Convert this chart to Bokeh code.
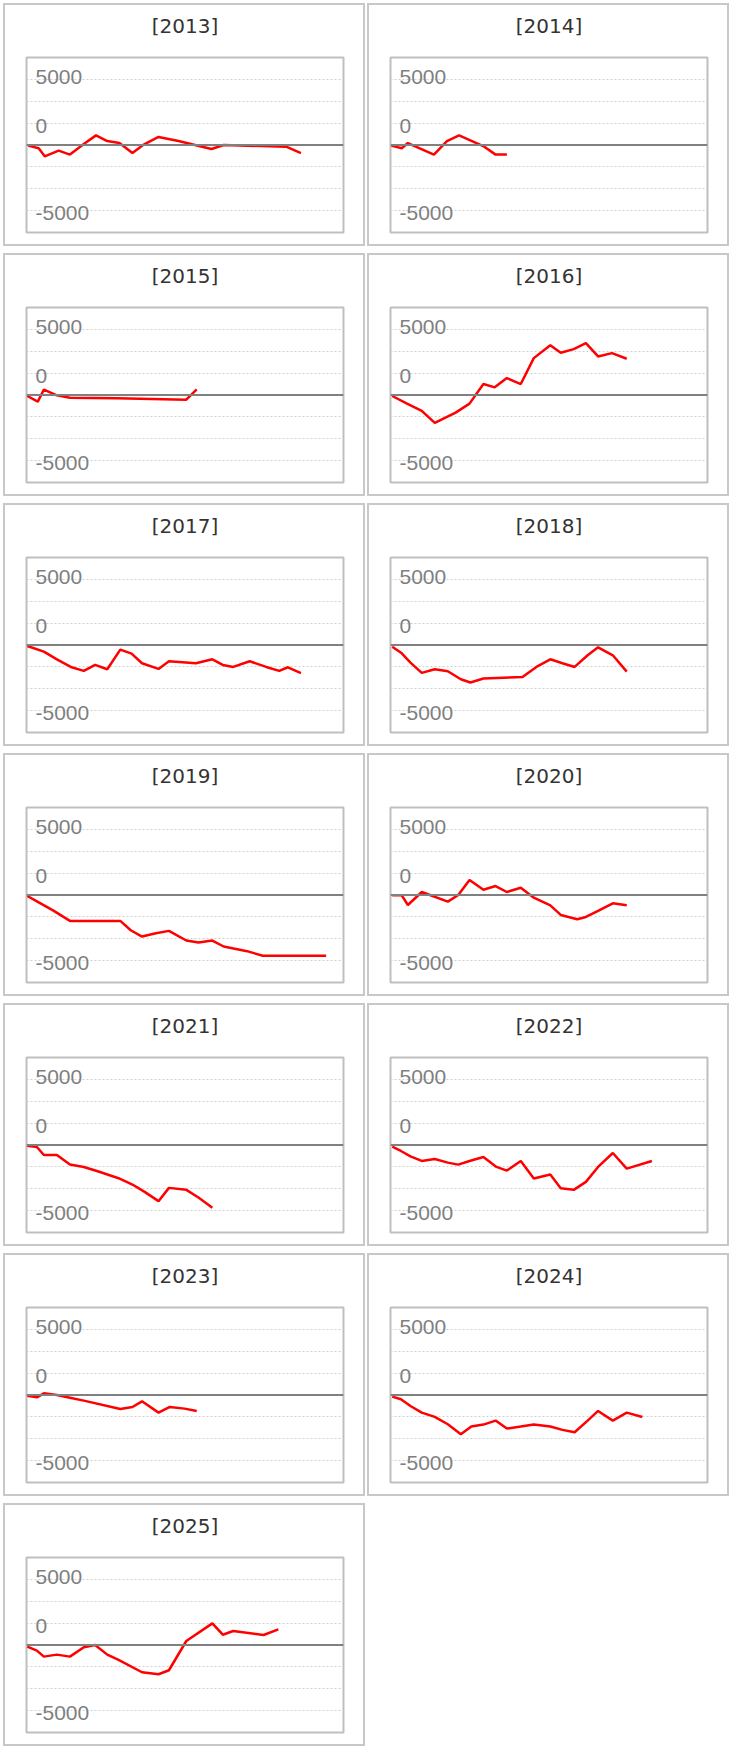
from bokeh.plotting import figure
from bokeh.layouts import column, row
from bokeh.models import Range1d, Span, FixedTicker, ColumnDataSource, Title
from bokeh.core.properties import value
from bokeh.embed import file_html
from bokeh.resources import INLINE

# ---- data (x = approx. day of year, y = cumulative value) ----
years = ["2013", "2014", "2015", "2016", "2017", "2018", "2019",
         "2020", "2021", "2022", "2023", "2024", "2025"]

days_2013 = [2, 14, 21, 37, 50, 66, 80, 93, 107, 122, 135, 152, 175, 213, 227, 299, 316]
vals_2013 = [-50, -250, -860, -430, -730, 80, 730, 300, 150, -610, 30, 610, 300, -300, 0, -130, -610]

days_2014 = [1, 13, 20, 50, 65, 79, 108, 121, 134]
vals_2014 = [-50, -250, 150, -730, 300, 730, -130, -730, -730]

days_2015 = [1, 13, 20, 35, 50, 104, 184, 196]
vals_2015 = [-76, -505, 404, -25, -202, -253, -354, 429]

days_2016 = [2, 19, 36, 51, 75, 91, 107, 120, 134, 150, 165, 184, 196, 211, 225, 239, 255, 272]
vals_2016 = [-76, -657, -1212, -2121, -1338, -657, 833, 581, 1288, 833, 2803, 3788, 3207, 3485,
             3939, 2929, 3182, 2753]

days_2017 = [1, 20, 36, 51, 66, 79, 93, 108, 121, 133, 152, 164, 195, 214, 226, 238, 257, 276,
             291, 301, 316]
vals_2017 = [-76, -505, -1136, -1667, -1970, -1515, -1843, -354, -657, -1389, -1818, -1237,
             -1389, -1086, -1515, -1667, -1237, -1667, -1970, -1692, -2146]

days_2018 = [2, 13, 23, 36, 51, 66, 81, 92, 107, 152, 168, 184, 198, 212, 227, 239, 256, 272]
vals_2018 = [-126, -631, -1338, -2121, -1843, -1995, -2601, -2854, -2551, -2424, -1667, -1086,
             -1389, -1667, -783, -177, -783, -2020]

days_2019 = [1, 12, 31, 50, 108, 120, 133, 149, 164, 184, 198, 214, 227, 254, 272, 345]
vals_2019 = [-76, -480, -1187, -1970, -1970, -2677, -3157, -2904, -2727, -3460, -3611, -3460,
             -3914, -4268, -4621, -4621]

days_2020 = [2, 13, 20, 36, 66, 78, 91, 107, 121, 134, 150, 165, 184, 196, 215, 225, 239, 256, 272]
vals_2020 = [-25, -25, -758, 227, -505, 0, 1136, 404, 682, 227, 556, -202, -783, -1515, -1843,
             -1667, -1212, -631, -783]

days_2021 = [1, 12, 20, 35, 50, 66, 82, 106, 122, 136, 152, 164, 184, 198, 214]
vals_2021 = [-50, -152, -758, -758, -1490, -1667, -1995, -2525, -3005, -3561, -4268, -3258,
             -3409, -3990, -4773]

days_2022 = [2, 12, 23, 36, 51, 66, 78, 91, 107, 122, 134, 150, 165, 184, 196, 211, 225, 239,
             256, 272, 301]
vals_2022 = [-126, -455, -859, -1212, -1061, -1338, -1490, -1212, -909, -1667, -1944, -1212,
             -2551, -2247, -3283, -3409, -2803, -1667, -606, -1793, -1212]

days_2023 = [1, 12, 20, 35, 50, 66, 108, 122, 133, 152, 165, 182, 196]
vals_2023 = [-50, -177, 126, 0, -202, -429, -1061, -909, -480, -1338, -909, -1035, -1212]

days_2024 = [2, 12, 23, 36, 51, 66, 81, 93, 107, 121, 134, 150, 165, 184, 198, 212, 227, 239,
             256, 272, 290]
vals_2024 = [-126, -328, -833, -1338, -1667, -2222, -2980, -2399, -2247, -1944, -2551, -2399,
             -2247, -2399, -2652, -2828, -1944, -1212, -1944, -1338, -1667]

days_2025 = [1, 12, 20, 35, 50, 66, 79, 93, 106, 133, 152, 164, 184, 214, 226, 238, 273, 290]
vals_2025 = [-126, -429, -884, -732, -884, -177, 0, -732, -1136, -2071, -2222, -1919, 303, 1641,
             783, 1061, 758, 1187]

series = {
    "2013": (days_2013, vals_2013), "2014": (days_2014, vals_2014),
    "2015": (days_2015, vals_2015), "2016": (days_2016, vals_2016),
    "2017": (days_2017, vals_2017), "2018": (days_2018, vals_2018),
    "2019": (days_2019, vals_2019), "2020": (days_2020, vals_2020),
    "2021": (days_2021, vals_2021), "2022": (days_2022, vals_2022),
    "2023": (days_2023, vals_2023), "2024": (days_2024, vals_2024),
    "2025": (days_2025, vals_2025),
}

tick_values = [5000, 0, -5000]
tick_labels = ["5000", "0", "-5000"]
grid_values = [-5000, -3333.33, -1666.67, 1666.67, 3333.33, 5000]

Y_MIN, Y_MAX = -6650, 6650
X_MIN, X_MAX = 0, 365

# label offsets (screen px, from the tick value to the text baseline)
label_y_offsets = [-2, -19, 2]

PANEL_W, PANEL_H = 362, 243


def make_panel(year):
    days, vals = series[year]
    p = figure(width=PANEL_W, height=PANEL_H, output_backend="svg", toolbar_location=None,
               x_range=Range1d(X_MIN, X_MAX), y_range=Range1d(Y_MIN, Y_MAX),
               x_axis_location=None, y_axis_location=None,
               min_border_left=23, min_border_right=22, min_border_top=54,
               min_border_bottom=14, title=None,
               styles={"outline": "2px solid #c8c8c8", "outline-offset": "-2px",
                       "background-color": "white"})

    # blank spacer between the panel title and the frame
    spacer = Title(text=" ", text_font_size="1px", standoff=17, text_color="white")
    p.add_layout(spacer, "above")
    heading = Title(text="[" + year + "]", align="center", vertical_align="bottom",
                    text_font="DejaVu Sans", text_font_size="20px",
                    text_font_style="normal", text_color="#333333", standoff=0)
    p.add_layout(heading, "above")

    p.background_fill_color = "white"
    p.border_fill_color = None
    p.outline_line_color = "#bfbfbf"
    p.outline_line_width = 2

    p.xgrid.visible = False
    p.ygrid.ticker = FixedTicker(ticks=grid_values)
    p.ygrid.grid_line_color = "#d0d0d0"
    p.ygrid.grid_line_dash = "2 2"
    p.ygrid.grid_line_width = 1

    p.add_layout(Span(location=0, dimension="width", line_color="#808080", line_width=2))

    src = ColumnDataSource(dict(x=[X_MIN] * len(tick_values), y=tick_values,
                                t=tick_labels, yo=label_y_offsets))
    p.text(x="x", y="y", text="t", source=src, x_offset=9, y_offset="yo",
           text_font=value("Liberation Sans"), text_font_size="21px",
           text_color="#7f7f7f", text_baseline="alphabetic", text_align="left")

    p.line(days, vals, line_color="#ff0000", line_width=2.5)
    return p


panels = [make_panel(y) for y in years]
rows = []
for i in range(0, len(panels), 2):
    rows.append(row(*panels[i:i + 2], spacing=2))
layout = column(*rows, spacing=7)
try:
    layout.margin = (3, 0, 0, 3)
except Exception:
    layout.styles = {"margin-left": "3px", "margin-top": "3px"}

open("out.html", "w").write(file_html(layout, INLINE))
